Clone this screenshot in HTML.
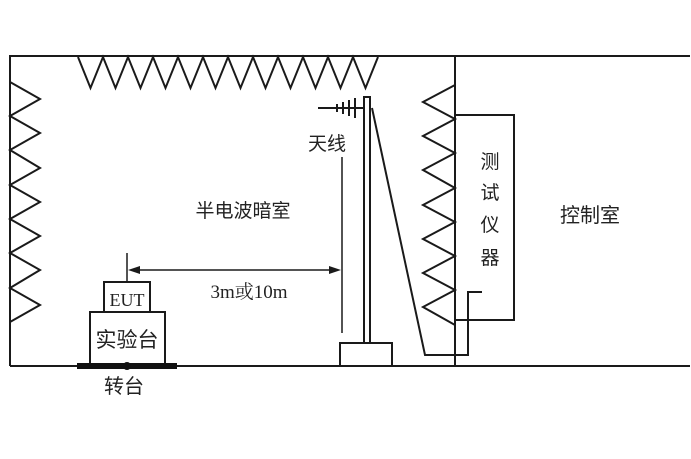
<!DOCTYPE html>
<html><head><meta charset="utf-8"><style>
html,body{margin:0;padding:0;background:#fff;}
svg text{font-family:"Liberation Sans","Noto Sans CJK SC",sans-serif;fill:#222;}
</style></head><body>
<svg width="691" height="454" viewBox="0 0 691 454" xmlns="http://www.w3.org/2000/svg">
<g stroke="#1a1a1a" stroke-width="2" fill="none">
<polyline points="10,366 10,56 690,56"/>
<line x1="10" y1="366" x2="690" y2="366"/>
<line x1="455" y1="56" x2="455" y2="366"/>
<polyline points="78,57 90.5,88 103,57 115.5,88 128,57 140.5,88 153,57 165.5,88 178,57 190.5,88 203,57 215.5,88 228,57 240.5,88 253,57 265.5,88 278,57 290.5,88 303,57 315.5,88 328,57 340.5,88 353,57 365.5,88 378,57"/>
<polyline points="10,82 40,99 10,116 40,133 10,150 40,168 10,185 40,202 10,219 40,236 10,253 40,270 10,288 40,305 10,322"/>
<polyline points="455,85 423,102 455,119 423,136 455,153 423,170 455,188 423,205 455,222 423,239 455,256 423,273 455,290 423,307 455,325"/>
<rect x="455" y="115" width="59" height="205"/>
<polyline points="482,292 468,292 468,355 425,355 372,108"/>
<polyline points="364,343 364,97 370,97 370,343"/>
<rect x="340" y="343" width="52" height="23"/>
<line x1="318" y1="108" x2="364" y2="108"/>
<line x1="337" y1="104" x2="337" y2="112"/>
<line x1="343" y1="102" x2="343" y2="114"/>
<line x1="349" y1="100" x2="349" y2="116"/>
<line x1="355" y1="98" x2="355" y2="118"/>
<line x1="342" y1="157" x2="342" y2="333" stroke-width="1.5"/>
<line x1="127" y1="253" x2="127" y2="282" stroke-width="1.5"/>
<line x1="134" y1="270" x2="335" y2="270" stroke-width="1.5"/>
<rect x="104" y="282" width="46" height="30"/>
<rect x="90" y="312" width="75" height="54"/>
</g>
<polygon points="128,270 140,266 140,274" fill="#1a1a1a"/>
<polygon points="341,270 329,266 329,274" fill="#1a1a1a"/>
<rect x="77" y="363" width="100" height="6" fill="#111"/>
<circle cx="127" cy="366" r="4" fill="#111"/>
<text x="327" y="150" font-size="19" text-anchor="middle">天线</text>
<text x="243" y="217" font-size="19" text-anchor="middle">半电波暗室</text>
<text x="249" y="298" font-size="19" text-anchor="middle" style="font-family:'Liberation Serif','Noto Serif CJK SC',serif">3m或10m</text>
<text x="127" y="306" font-size="18" text-anchor="middle" style="font-family:'Liberation Serif',serif">EUT</text>
<text x="127" y="347" font-size="21" text-anchor="middle">实验台</text>
<text x="124" y="393" font-size="20" text-anchor="middle">转台</text>
<text x="590" y="222" font-size="20" text-anchor="middle">控制室</text>
<text x="490" y="168" font-size="19" text-anchor="middle">测</text>
<text x="490" y="199" font-size="19" text-anchor="middle">试</text>
<text x="490" y="231" font-size="19" text-anchor="middle">仪</text>
<text x="490" y="264" font-size="19" text-anchor="middle">器</text>
</svg>
</body></html>
